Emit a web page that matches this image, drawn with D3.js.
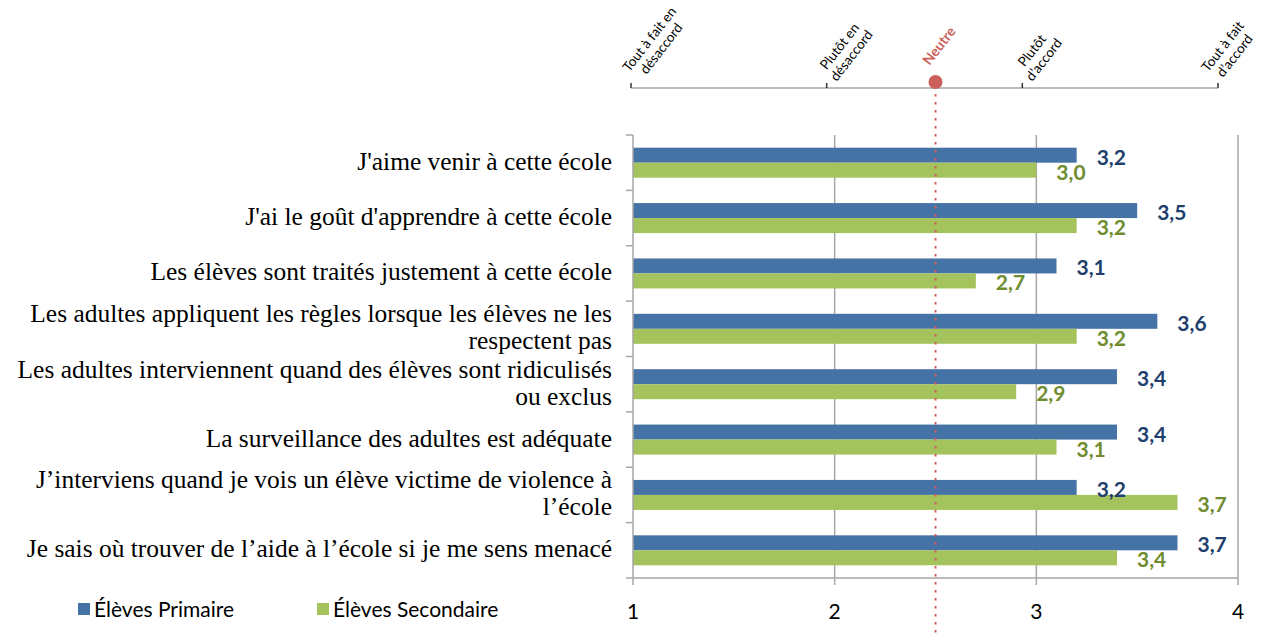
<!DOCTYPE html>
<html>
<head>
<meta charset="utf-8">
<script src="https://cdn.jsdelivr.net/npm/d3@7"></script>
<style>
  body { margin: 0; background: #fff; }
  svg { display: block; }
</style>
</head>
<body>
<svg id="chart"></svg>
<script>
// categories (each entry = lines of the label)
var categories = [
	["J'aime venir à cette école"],
	["J'ai le goût d'apprendre à cette école"],
	["Les élèves sont traités justement à cette école"],
	["Les adultes appliquent les règles lorsque les élèves ne les", "respectent pas"],
	["Les adultes interviennent quand des élèves sont ridiculisés", "ou exclus"],
	["La surveillance des adultes est adéquate"],
	["J’interviens quand je vois un élève victime de violence à", "l’école"],
	["Je sais où trouver de l’aide à l’école si je me sens menacé"]
];
var seriesNames = ["Élèves Primaire", "Élèves Secondaire"];
var primaire = [3.2, 3.5, 3.1, 3.6, 3.4, 3.4, 3.2, 3.7];
var secondaire = [3.0, 3.2, 2.7, 3.2, 2.9, 3.1, 3.7, 3.4];
var xTicks = [1, 2, 3, 4];
var scaleLabels = [
	["Tout à fait en", "désaccord"],
	["Plutôt en", "désaccord"],
	["Plutôt", "d’accord"],
	["Tout à fait", "d’accord"]
];
var neutralValue = 2.5;
var neutralLabel = "Neutre";

var width = 1261, height = 635;
var colors = ["#4673a5", "#a5c35c"];
var labelColors = ["#1f3f6c", "#6f8c2f"];
var gridColor = "#a6a6a6";
var serif = "'Liberation Serif', 'Times New Roman', serif";
var sans = "Lato, 'Open Sans', sans-serif";

var svg = d3.select('#chart').attr('width', width).attr('height', height);

var plot = { left: 633, right: 1238, top: 135, bottom: 578 };

var x = d3.scaleLinear().domain([1, 4]).range([plot.left, plot.right]);
var y = d3.scaleBand().domain(d3.range(categories.length)).range([plot.top, plot.bottom]);
var inner = d3.scaleBand().domain([0, 1]).range([-15, 15]);

// top agreement scale
var topX = d3.scaleLinear().domain([1, 4]).range([631, 1218]);
var topY = 88;

// gridlines
svg.append('g').selectAll('line')
	.data([2, 3, 4])
	.join('line')
	.attr('x1', function (d) { return x(d); })
	.attr('x2', function (d) { return x(d); })
	.attr('y1', plot.top)
	.attr('y2', plot.bottom)
	.attr('stroke', gridColor)
	.attr('stroke-width', 1.5);

// bars
var rows = categories.map(function (c, i) { return [primaire[i], secondaire[i]]; });
var groups = svg.append('g').selectAll('g')
	.data(rows)
	.join('g')
	.attr('transform', function (d, i) { return 'translate(0,' + (y(i) + y.bandwidth() / 2) + ')'; });

groups.selectAll('rect')
	.data(function (d) { return d; })
	.join('rect')
	.attr('x', x(1))
	.attr('y', function (d, j) { return inner(j); })
	.attr('width', function (d) { return x(d) - x(1); })
	.attr('height', inner.bandwidth())
	.attr('fill', function (d, j) { return colors[j]; });

groups.selectAll('text')
	.data(function (d) { return d; })
	.join('text')
	.attr('x', function (d) { return x(d) + 20; })
	.attr('y', function (d, j) { return inner(j) + inner.bandwidth() + 2; })
	.attr('fill', function (d, j) { return labelColors[j]; })
	.style('font-family', sans)
	.style('font-weight', 'bold')
	.style('font-size', '21px')
	.text(function (d) { return d3.format('.1f')(d).replace('.', ','); });

// axes
var axis = svg.append('g').attr('stroke', gridColor).attr('stroke-width', 1.5);
axis.append('line')
	.attr('x1', plot.left).attr('x2', plot.left)
	.attr('y1', plot.top).attr('y2', plot.bottom);
axis.append('line')
	.attr('x1', plot.left - 7).attr('x2', plot.right)
	.attr('y1', plot.bottom).attr('y2', plot.bottom);
axis.selectAll('.ctick')
	.data(d3.range(categories.length))
	.join('line')
	.attr('class', 'ctick')
	.attr('x1', plot.left - 7).attr('x2', plot.left)
	.attr('y1', function (d) { return y(d); })
	.attr('y2', function (d) { return y(d); });
axis.selectAll('.xtick')
	.data(xTicks)
	.join('line')
	.attr('class', 'xtick')
	.attr('x1', function (d) { return x(d); })
	.attr('x2', function (d) { return x(d); })
	.attr('y1', plot.bottom)
	.attr('y2', plot.bottom + 7);

svg.append('g').selectAll('text')
	.data(xTicks)
	.join('text')
	.attr('x', function (d) { return x(d); })
	.attr('y', plot.bottom + 41)
	.attr('text-anchor', 'middle')
	.style('font-family', sans)
	.style('font-size', '21px')
	.attr('fill', '#000')
	.text(function (d) { return d; });

// category labels, font fitted to the widest line
var labels = svg.append('g');
var probe = labels.append('text').style('font-family', serif).style('font-size', '100px')
	.text(categories[3][0]);
var labelSize = 582 / probe.node().getComputedTextLength() * 100;
probe.remove();
var lineGap = 27;

labels.selectAll('text')
	.data(categories)
	.join('text')
	.attr('text-anchor', 'end')
	.style('font-family', serif)
	.style('font-size', labelSize + 'px')
	.attr('fill', '#000')
	.each(function (lines, i) {
		var cy = y(i) + y.bandwidth() / 2;
		var t = d3.select(this);
		lines.forEach(function (line, k) {
			t.append('tspan')
				.attr('x', 612)
				.attr('y', cy + 7 + (k - (lines.length - 1) / 2) * lineGap)
				.text(line);
		});
	});

// top scale
var topAxis = svg.append('g');
topAxis.append('line')
	.attr('x1', topX(1)).attr('x2', topX(4))
	.attr('y1', topY).attr('y2', topY)
	.attr('stroke', '#a6a6a6').attr('stroke-width', 1.5);
topAxis.selectAll('.ttick')
	.data(xTicks)
	.join('line')
	.attr('class', 'ttick')
	.attr('x1', function (d) { return topX(d); })
	.attr('x2', function (d) { return topX(d); })
	.attr('y1', topY - 5).attr('y2', topY)
	.attr('stroke', '#333').attr('stroke-width', 1.5);

var angle = -52, topLine = 15;
var topLabels = topAxis.selectAll('.tlabel')
	.data(scaleLabels)
	.join('g')
	.attr('class', 'tlabel');

topLabels.each(function (lines, i) {
	var g = d3.select(this);
	var texts = lines.map(function (line, k) {
		return g.append('text')
			.attr('text-anchor', 'middle')
			.attr('y', -(lines.length - 1 - k) * topLine)
			.style('font-family', sans)
			.style('font-size', '13.5px')
			.attr('fill', '#000')
			.text(line);
	});
	var w = d3.max(texts, function (t) { return t.node().getComputedTextLength(); });
	texts.forEach(function (t) { t.attr('x', w / 2); });
	var tx = topX(xTicks[i]) + 10;
	g.attr('transform', 'translate(' + tx + ',' + (topY - 6) + ') rotate(' + angle + ')');
	// keep the label inside the picture
	var over = g.node().getBoundingClientRect().right - (width - 2);
	if (over > 0) {
		g.attr('transform', 'translate(' + (tx - over) + ',' + (topY - 6) + ') rotate(' + angle + ')');
	}
});

// neutral marker
var neutral = svg.append('g');
neutral.append('line')
	.attr('x1', x(neutralValue)).attr('x2', x(neutralValue))
	.attr('y1', topY + 6).attr('y2', height)
	.attr('stroke', '#d0605c')
	.attr('stroke-width', 2)
	.attr('stroke-dasharray', '2.5,5.5');
neutral.append('circle')
	.attr('cx', x(neutralValue))
	.attr('cy', topY - 6)
	.attr('r', 7)
	.attr('fill', '#cc5f5a');
neutral.append('text')
	.attr('transform', 'translate(' + (x(neutralValue) - 6) + ',' + (topY - 22) + ') rotate(' + angle + ')')
	.style('font-family', sans)
	.style('font-size', '14px')
	.style('font-weight', 'bold')
	.attr('fill', '#cc5f5a')
	.text(neutralLabel);

// legend
var legend = svg.append('g').selectAll('g')
	.data(seriesNames)
	.join('g')
	.attr('transform', function (d, i) { return 'translate(' + [78, 317][i] + ',603)'; });
legend.append('rect')
	.attr('width', 12).attr('height', 12)
	.attr('fill', function (d, i) { return colors[i]; });
legend.append('text')
	.attr('x', 16).attr('y', 14)
	.style('font-family', sans)
	.style('font-size', '21px')
	.attr('fill', '#000')
	.text(function (d) { return d; });
</script>
</body>
</html>
